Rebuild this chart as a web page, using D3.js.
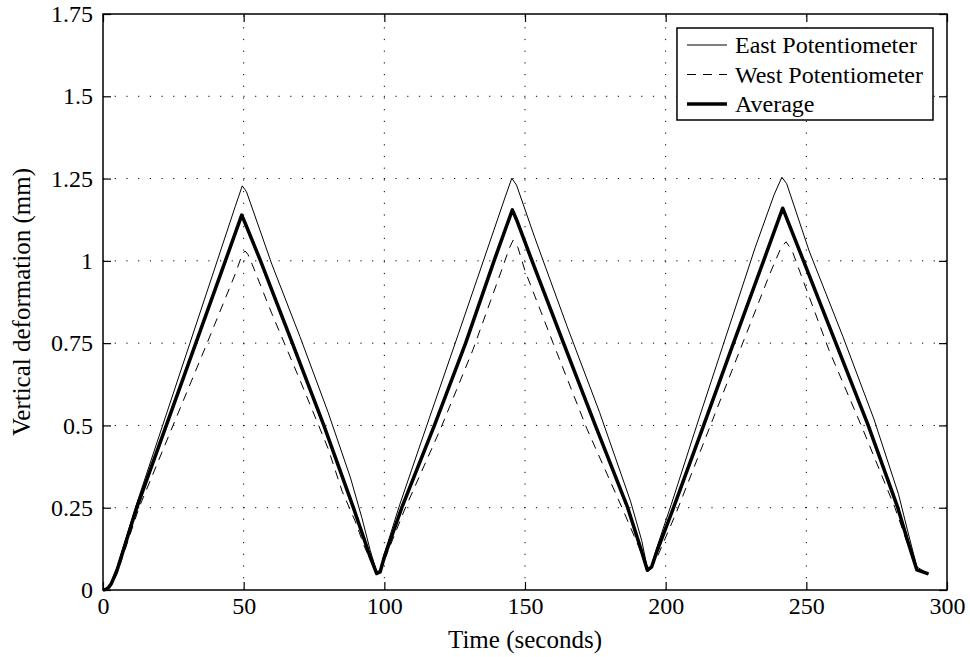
<!DOCTYPE html>
<html>
<head>
<meta charset="utf-8">
<script src="https://cdn.jsdelivr.net/npm/d3@7"></script>
<style>
  body { margin: 0; background: #fff; }
  #plot svg { display: block; }
  #plot svg text { font-family: "Liberation Serif", "DejaVu Serif", serif; fill: #000; }
</style>
</head>
<body>
<div id="plot"></div>
<script>
// time (s), deformation (mm)
const eastPot = [
  [0, 0], [1, 0.003], [2, 0.01], [3, 0.025], [5, 0.07], [11.5, 0.25], [21.2, 0.5], [30.9, 0.75],
  [40.6, 1.0], [47, 1.165], [49.5, 1.228], [51, 1.21], [60, 0.99], [70, 0.77], [80, 0.54],
  [88, 0.34], [92, 0.22], [95, 0.12], [97.3, 0.055],
  [98.5, 0.06], [100, 0.11], [105.5, 0.26], [115.9, 0.52], [126.4, 0.78], [136.4, 1.03], [143.2, 1.2],
  [145.3, 1.251], [147, 1.23], [153.5, 1.07], [165, 0.8], [176.5, 0.54], [187.5, 0.27], [191.5, 0.15],
  [193.5, 0.065],
  [194.8, 0.07], [196.5, 0.12], [202, 0.26], [211.8, 0.52], [221.8, 0.78], [231.8, 1.04], [238.5, 1.2],
  [241.3, 1.254], [243, 1.235], [251, 1.03], [263, 0.77], [274, 0.52], [282.8, 0.29],
  [286, 0.18], [289.3, 0.07], [293.4, 0.049]
];
const westPot = [
  [0, 0], [1, 0.002], [2, 0.006], [3, 0.015], [5, 0.05], [12.8, 0.25], [24.9, 0.5], [37, 0.75],
  [47, 0.96], [49.5, 1.02], [50.5, 1.03], [51.5, 1.02], [53, 0.99], [60, 0.84], [70, 0.638], [80, 0.43],
  [85, 0.3], [89.6, 0.21], [93, 0.13], [97.3, 0.05],
  [98.5, 0.055], [100, 0.09], [107, 0.24], [120, 0.49], [131.5, 0.73], [141.2, 0.96], [144.5, 1.04],
  [145.8, 1.063], [147.5, 1.04], [150, 0.97], [160, 0.75], [172, 0.49], [185, 0.24], [190.5, 0.13],
  [193.5, 0.06],
  [194.8, 0.065], [197, 0.1], [204, 0.24], [215, 0.48], [226, 0.72], [237, 0.96], [241, 1.04],
  [242.8, 1.058], [245, 1.03], [248, 0.96], [258, 0.73], [270, 0.49], [281.5, 0.25], [286, 0.14],
  [289.3, 0.06], [293.4, 0.049]
];
const average = [
  [0, 0], [1, 0.002], [2, 0.008], [3, 0.02], [5, 0.06], [12, 0.25], [22.5, 0.5], [33, 0.75],
  [43.5, 1.0], [49.3, 1.139], [50.5, 1.115], [56, 1.0], [67.3, 0.75], [78.5, 0.5], [89, 0.25],
  [95, 0.1], [97.3, 0.05],
  [98.5, 0.055], [100, 0.1], [106.2, 0.25], [117.8, 0.5], [128.9, 0.75], [139, 1.0],
  [145.5, 1.155], [147, 1.125], [152.5, 1.0], [163.7, 0.75], [175, 0.5], [186.5, 0.25], [191, 0.13],
  [193.5, 0.06],
  [195, 0.07], [197, 0.12], [202.8, 0.25], [213.5, 0.5], [224.1, 0.75], [234.8, 1.0],
  [241.6, 1.16], [243, 1.13], [249, 1.0], [260.5, 0.75], [272, 0.5], [282.5, 0.25], [286, 0.15],
  [289.3, 0.061], [293.4, 0.049]
];

const xTicks = [0, 50, 100, 150, 200, 250, 300];
const yTicks = [0, 0.25, 0.5, 0.75, 1, 1.25, 1.5, 1.75];
const yTickLabels = ["0", "0.25", "0.5", "0.75", "1", "1.25", "1.5", "1.75"];
const seriesNames = ["East Potentiometer", "West Potentiometer", "Average"];

const width = 970;
const height = 657;
const marginTop = 14;
const marginRight = 23;
const marginBottom = 67;
const marginLeft = 103;
const fontSize = 24;
const labelSize = 25;
const serif = "Liberation Serif, DejaVu Serif, serif";

const svg = d3.create("svg")
    .attr("width", width)
    .attr("height", height)
    .attr("viewBox", [0, 0, width, height]);

// attach early so text can be measured
document.getElementById("plot").appendChild(svg.node());

const x = d3.scaleLinear()
    .domain([0, 300])
    .range([marginLeft, width - marginRight]);

const y = d3.scaleLinear()
    .domain([0, 1.75])
    .range([height - marginBottom, marginTop]);

// dotted grid
svg.append("g")
    .selectAll("line")
    .data(xTicks.slice(1, -1))
    .join("line")
    .attr("x1", d => x(d)).attr("x2", d => x(d))
    .attr("y1", y(0)).attr("y2", y(1.75))
    .attr("stroke", "#000")
    .attr("stroke-width", 1)
    .attr("stroke-dasharray", "1.2,10.5");

svg.append("g")
    .selectAll("line")
    .data(yTicks.slice(1, -1))
    .join("line")
    .attr("x1", x(0)).attr("x2", x(300))
    .attr("y1", d => y(d)).attr("y2", d => y(d))
    .attr("stroke", "#000")
    .attr("stroke-width", 1)
    .attr("stroke-dasharray", "1.2,10.5");

// the three curves
const line = d3.line()
    .x(d => x(d[0]))
    .y(d => y(d[1]));

svg.append("path")
    .datum(eastPot)
    .attr("fill", "none")
    .attr("stroke", "#000")
    .attr("stroke-width", 1)
    .attr("d", line);

svg.append("path")
    .datum(westPot)
    .attr("fill", "none")
    .attr("stroke", "#000")
    .attr("stroke-width", 1)
    .attr("stroke-dasharray", "9,7")
    .attr("d", line);

svg.append("path")
    .datum(average)
    .attr("fill", "none")
    .attr("stroke", "#000")
    .attr("stroke-width", 3.5)
    .attr("stroke-linejoin", "round")
    .attr("d", line);

// axes: ticks point inward, on all four sides
const tickLen = 8;
svg.append("g")
    .attr("transform", `translate(0,${y(0)})`)
    .call(d3.axisBottom(x).tickValues(xTicks).tickSizeInner(-tickLen).tickSizeOuter(0).tickPadding(7))
    .call(g => g.select(".domain").remove())
    .call(g => g.selectAll("text").attr("font-size", fontSize).attr("font-family", serif));

svg.append("g")
    .attr("transform", `translate(0,${y(1.75)})`)
    .call(d3.axisTop(x).tickValues(xTicks).tickSizeInner(-tickLen).tickSizeOuter(0).tickFormat(""))
    .call(g => g.select(".domain").remove());

svg.append("g")
    .attr("transform", `translate(${x(0)},0)`)
    .call(d3.axisLeft(y).tickValues(yTicks).tickSizeInner(-tickLen).tickSizeOuter(0).tickPadding(10)
        .tickFormat((d, i) => yTickLabels[i]))
    .call(g => g.select(".domain").remove())
    .call(g => g.selectAll("text").attr("font-size", fontSize).attr("font-family", serif));

svg.append("g")
    .attr("transform", `translate(${x(300)},0)`)
    .call(d3.axisRight(y).tickValues(yTicks).tickSizeInner(-tickLen).tickSizeOuter(0).tickFormat(""))
    .call(g => g.select(".domain").remove());

svg.selectAll(".tick line").attr("stroke-width", 1.2);

// box around the plot
svg.append("rect")
    .attr("x", x(0))
    .attr("y", y(1.75))
    .attr("width", x(300) - x(0))
    .attr("height", y(0) - y(1.75))
    .attr("fill", "none")
    .attr("stroke", "#000")
    .attr("stroke-width", 1.5);

// axis titles
svg.append("text")
    .attr("x", (x(0) + x(300)) / 2)
    .attr("y", 648)
    .attr("text-anchor", "middle")
    .attr("font-family", serif)
    .attr("font-size", labelSize)
    .text("Time (seconds)");

svg.append("text")
    .attr("transform", "rotate(-90)")
    .attr("x", -(y(0) + y(1.75)) / 2)
    .attr("y", 30)
    .attr("text-anchor", "middle")
    .attr("font-family", serif)
    .attr("font-size", labelSize)
    .text("Vertical deformation (mm)");

// legend
const legendRight = 933;
const legend = svg.append("g");
const rows = seriesNames.map((name, i) => ({ name, ly: 45 + i * 29.5 }));
const styles = [
  { w: 1, dash: null },
  { w: 1, dash: "9,7" },
  { w: 3.5, dash: null }
];
const box = legend.append("rect")
    .attr("fill", "#fff")
    .attr("stroke", "#000")
    .attr("stroke-width", 1.5);

const texts = rows.map(r => legend.append("text")
    .attr("y", r.ly)
    .attr("dy", "0.35em")
    .attr("font-family", serif)
    .attr("font-size", fontSize)
    .text(r.name));
const textW = d3.max(texts, t => t.node().getComputedTextLength()) || 182;
const textX = legendRight - 10 - textW;
texts.forEach(t => t.attr("x", textX));
rows.forEach((r, i) => {
    legend.append("line")
        .attr("x1", textX - 48).attr("x2", textX - 8)
        .attr("y1", r.ly).attr("y2", r.ly)
        .attr("stroke", "#000")
        .attr("stroke-width", styles[i].w)
        .attr("stroke-dasharray", styles[i].dash);
});
box.attr("x", textX - 58)
    .attr("y", 28)
    .attr("width", legendRight - (textX - 58))
    .attr("height", 92);
</script>
</body>
</html>
